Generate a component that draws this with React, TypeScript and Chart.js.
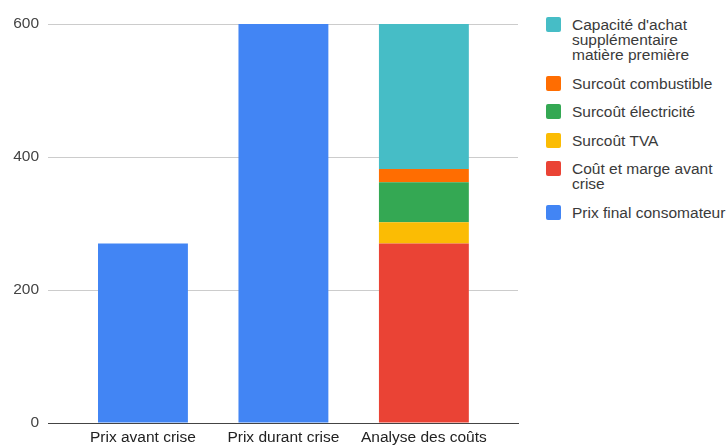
import React, { useEffect, useRef } from "react";
import { Chart, registerables } from "chart.js";

Chart.register(...registerables);

// Categories along the horizontal axis
const categories = ["Prix avant crise", "Prix durant crise", "Analyse des coûts"];

// Series values, one entry per category (null = no bar segment)
const prixFinalConsomateur = [270, 600, null];
const coutEtMargeAvantCrise = [null, null, 270];
const surcoutTVA = [null, null, 32];
const surcoutElectricite = [null, null, 60];
const surcoutCombustible = [null, null, 20];
const capaciteAchatSupplementaire = [null, null, 218];

// Vertical axis ticks
const yTicks = [0, 200, 400, 600];

// Series names and colours, in stacking order (bottom first)
const seriesNames = [
  "Prix final consomateur",
  "Coût et marge avant crise",
  "Surcoût TVA",
  "Surcoût électricité",
  "Surcoût combustible",
  "Capacité d'achat supplémentaire matière première",
];
const seriesColors = ["#4285F4", "#EA4335", "#FBBC04", "#34A853", "#FF6D01", "#46BDC6"];
const seriesValues = [
  prixFinalConsomateur,
  coutEtMargeAvantCrise,
  surcoutTVA,
  surcoutElectricite,
  surcoutCombustible,
  capaciteAchatSupplementaire,
];

const FONT_FAMILY = "'Liberation Sans', Arial, Helvetica, sans-serif";
const FONT_SIZE = 15.5;

export default function App() {
  const canvasRef = useRef<HTMLCanvasElement | null>(null);

  useEffect(() => {
    if (!canvasRef.current) return;

    const datasets = seriesValues.map((values, i) => ({
      label: seriesNames[i],
      data: values
        .map((v, idx) => (v === null ? null : { x: idx, y: v }))
        .filter((p) => p !== null),
      backgroundColor: seriesColors[i],
      borderWidth: 0,
      barPercentage: 0.64,
      categoryPercentage: 1,
    }));

    const font = { family: FONT_FAMILY, size: FONT_SIZE };

    const chart = new Chart(canvasRef.current, {
      type: "bar",
      data: { datasets: datasets as any },
      options: {
        animation: false,
        responsive: true,
        maintainAspectRatio: false,
        layout: { padding: { top: 24, right: 12, left: 0, bottom: 0 } },
        plugins: {
          legend: { display: false },
          tooltip: { enabled: false },
        },
        scales: {
          x: {
            type: "linear",
            stacked: true,
            offset: false,
            min: -0.676,
            max: 2.67,
            grid: { display: false, drawTicks: false },
            border: { display: true, color: "#444", width: 1 },
            ticks: {
              stepSize: 1,
              autoSkip: false,
              maxRotation: 0,
              padding: 5,
              color: "#222",
              font,
              callback: (v: any) => {
                const n = Number(v);
                return Number.isInteger(n) && n >= 0 && n < categories.length
                  ? categories[n]
                  : "";
              },
            },
            // keep only one tick per category
            afterBuildTicks: (s: any) => {
              s.ticks = s.ticks.filter(
                (t: any) => Number.isInteger(t.value) && t.value >= 0 && t.value < categories.length
              );
            },
            afterFit: (s: any) => {
              s.height = 22;
            },
          },
          y: {
            stacked: true,
            min: yTicks[0],
            max: yTicks[yTicks.length - 1],
            grid: { color: "#cccccc", drawTicks: false },
            border: { display: false },
            ticks: {
              stepSize: yTicks[1] - yTicks[0],
              padding: 9,
              color: "#444",
              font,
            },
            afterFit: (s: any) => {
              s.width = 48;
            },
          },
        },
      },
    });

    return () => chart.destroy();
  }, []);

  // Legend lists the top of the stack first
  const legendOrder = seriesNames.map((_, i) => i).reverse();

  return (
    <div style={{ position: "absolute", left: 0, top: 0, width: 728, height: 445, background: "#fff" }}>
      <div style={{ position: "absolute", left: 0, top: 0, width: 530, height: 445 }}>
        <canvas ref={canvasRef} />
      </div>
      <div
        style={{
          position: "absolute",
          left: 546,
          top: 17,
          width: 182,
          fontFamily: FONT_FAMILY,
          fontSize: FONT_SIZE,
          lineHeight: "15px",
          color: "#3a3a3a",
        }}
      >
        {legendOrder.map((i) => (
          <div key={i} style={{ display: "flex", alignItems: "flex-start", marginBottom: 13.5 }}>
            <div
              style={{
                width: 15,
                height: 15,
                borderRadius: 2,
                background: seriesColors[i],
                flex: "0 0 auto",
                marginRight: 11,
              }}
            />
            <div style={{ width: 160 }}>{seriesNames[i]}</div>
          </div>
        ))}
      </div>
    </div>
  );
}
